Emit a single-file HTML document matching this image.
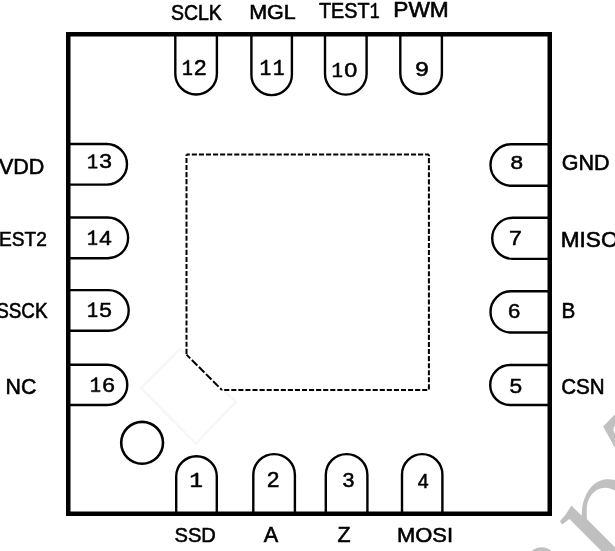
<!DOCTYPE html>
<html><head><meta charset="utf-8"><style>
html,body{margin:0;padding:0;background:#fff;}
svg{display:block;will-change:transform;}
text{font-family:"Liberation Sans",sans-serif;font-size:20px;fill:#000;}
</style></head><body>
<svg width="615" height="551" viewBox="0 0 615 551">
<rect width="615" height="551" fill="#fff"/>
<g fill="#c0c0c0"><path d="M559.9 521.2 Q567 514 571.3 505.4 L581.7 515.8 C581.5 500 589 481.5 606 479.3 C610 479 614 479.5 620 481.5 L620 492.5 C614 490.5 610 487.8 605 487.8 C595 488 586.8 497 586.8 510 L586.8 519 L688 620 L670 620 L569.5 519 L562.1 524.5 Z"/><path d="M603.2 426.4 L620 409 L620 422 C614.5 424 613.3 428 613.6 430 C613.8 433 615 435 620 436 L620 457 Z"/><circle cx="541.6" cy="562.2" r="15"/></g><polygon points="180,349 235.8,401.9 195.9,443.8 141,388" fill="none" stroke="#f7f7f7" stroke-width="2.5"/>
<rect x="68.25" y="34.25" width="481.5" height="479.5" fill="none" stroke="#000" stroke-width="4.5"/>
<path d="M175.30 34.25L175.30 73.70A20.8 20.8 0 0 0 216.90 73.70L216.90 34.25M251.40 34.25L251.40 74.85A20.25 20.25 0 0 0 291.90 74.85L291.90 34.25M325.00 34.25L325.00 73.80A20.8 20.8 0 0 0 366.60 73.80L366.60 34.25M400.30 34.25L400.30 73.20A20.8 20.8 0 0 0 441.90 73.20L441.90 34.25M176.20 513.75L176.20 476.50A20.3 20.3 0 0 1 216.80 476.50L216.80 513.75M253.30 513.75L253.30 474.90A20.8 20.8 0 0 1 294.90 474.90L294.90 513.75M325.80 513.75L325.80 474.90A20.8 20.8 0 0 1 367.40 474.90L367.40 513.75M402.00 513.75L402.00 474.30A20.2 20.2 0 0 1 442.40 474.30L442.40 513.75M68.25 144.00L106.70 144.00A20.3 20.3 0 0 1 106.70 184.60L68.25 184.60M68.25 217.55L107.75 217.55A20.35 20.35 0 0 1 107.75 258.25L68.25 258.25M68.25 290.10L108.40 290.10A20.3 20.3 0 0 1 108.40 330.70L68.25 330.70M68.25 364.75L107.15 364.75A20.15 20.15 0 0 1 107.15 405.05L68.25 405.05M549.75 144.20L511.30 144.20A20.8 20.8 0 0 0 511.30 185.80L549.75 185.80M549.75 217.70L512.80 217.70A20.6 20.6 0 0 0 512.80 258.90L549.75 258.90M549.75 291.25L511.15 291.25A20.65 20.65 0 0 0 511.15 332.55L549.75 332.55M549.75 365.00L510.20 365.00A20.0 20.0 0 0 0 510.20 405.00L549.75 405.00" fill="none" stroke="#000" stroke-width="2.4"/>
<line x1="186.5" y1="154.5" x2="428.9" y2="154.5" stroke="#000" stroke-width="2.0" stroke-dasharray="5.1 1.97" stroke-dashoffset="1.77"/>
<line x1="428.9" y1="154.5" x2="428.9" y2="390.0" stroke="#000" stroke-width="2.0" stroke-dasharray="5.1 1.97" stroke-dashoffset="3.47"/>
<line x1="186.5" y1="154.5" x2="186.5" y2="354.6" stroke="#000" stroke-width="2.0" stroke-dasharray="5.1 1.97" stroke-dashoffset="3.67"/>
<line x1="221.9" y1="390.0" x2="428.9" y2="390.0" stroke="#000" stroke-width="2.0" stroke-dasharray="5.1 1.97" stroke-dashoffset="4.77"/>
<line x1="186.5" y1="354.6" x2="221.9" y2="390.0" stroke="#000" stroke-width="2.0" stroke-dasharray="7.7 2.3" stroke-dashoffset="2.4"/>
<circle cx="142.1" cy="442.8" r="20.9" fill="none" stroke="#000" stroke-width="2.6"/>
<text transform="matrix(0.9743 0 0 1.0664 170.92 19.79)" stroke="#000" stroke-width="0.55">SCLK</text>
<text transform="matrix(1.0771 0 0 1.0311 249.13 18.50)" stroke="#000" stroke-width="0.55">MGL</text>
<g transform="matrix(0.9876 0 0 1.0876 319.06 17.99)"><text x="0.000" stroke="#000" stroke-width="0.55">T</text><text x="12.217" stroke="#000" stroke-width="0.55">E</text><text x="25.557" stroke="#000" stroke-width="0.55">S</text><text x="38.896" stroke="#000" stroke-width="0.55">T</text><path d="M170 0L950 0L950 135L670 135L670 1409L545 1409Q390 1210 150 1100L150 965Q350 1045 505 1165L505 135L170 135Z" transform="matrix(0.009766 0 0 -0.009766 51.113 0)" stroke="#000" stroke-width="56.32"/></g>
<text transform="matrix(1.1361 0 0 1.1192 393.24 17.10)" stroke="#000" stroke-width="0.55">PWM</text>
<text transform="matrix(1.0782 0 0 1.0683 -1.09 173.80)" stroke="#000" stroke-width="0.55">VDD</text>
<text transform="matrix(0.9584 0 0 1.0381 -1.07 245.70)" stroke="#000" stroke-width="0.55">EST2</text>
<text transform="matrix(0.9432 0 0 1.1017 -3.86 318.08)" stroke="#000" stroke-width="0.55">SSCK</text>
<text transform="matrix(1.0686 0 0 1.0664 5.55 393.59)" stroke="#000" stroke-width="0.55">NC</text>
<text transform="matrix(1.0758 0 0 1.0734 561.72 170.19)" stroke="#000" stroke-width="0.55">GND</text>
<text transform="matrix(1.1316 0 0 1.0593 560.74 247.49)" stroke="#000" stroke-width="0.55">MISO</text>
<text transform="matrix(1.0334 0 0 1.0974 561.60 318.30)" stroke="#000" stroke-width="0.55">B</text>
<text transform="matrix(1.0283 0 0 1.1017 561.26 393.58)" stroke="#000" stroke-width="0.55">CSN</text>
<text transform="matrix(1.0062 0 0 1.0169 174.49 541.80)" stroke="#000" stroke-width="0.55">SSD</text>
<text transform="matrix(1.0858 0 0 1.0901 263.66 542.30)" stroke="#000" stroke-width="0.55">A</text>
<text transform="matrix(1.0678 0 0 1.0683 337.62 542.30)" stroke="#000" stroke-width="0.55">Z</text>
<text transform="matrix(1.0981 0 0 1.0522 397.00 541.89)" stroke="#000" stroke-width="0.55">MOSI</text>
<g transform="matrix(1.1226 0 0 1.0670 181.56 74.90)"><path d="M170 0L950 0L950 135L670 135L670 1409L545 1409Q390 1210 150 1100L150 965Q350 1045 505 1165L505 135L170 135Z" transform="matrix(0.009766 0 0 -0.009766 0.000 0)" stroke="#000" stroke-width="51.20"/><text x="11.123" stroke="#000" stroke-width="0.5">2</text></g>
<g transform="matrix(1.1935 0 0 1.0829 259.25 74.90)"><path d="M170 0L950 0L950 135L670 135L670 1409L545 1409Q390 1210 150 1100L150 965Q350 1045 505 1165L505 135L170 135Z" transform="matrix(0.009766 0 0 -0.009766 0.000 0)" stroke="#000" stroke-width="51.20"/><path d="M170 0L950 0L950 135L670 135L670 1409L545 1409Q390 1210 150 1100L150 965Q350 1045 505 1165L505 135L170 135Z" transform="matrix(0.009766 0 0 -0.009766 11.123 0)" stroke="#000" stroke-width="51.20"/></g>
<g transform="matrix(1.1700 0 0 1.0240 331.19 77.00)"><path d="M170 0L950 0L950 135L670 135L670 1409L545 1409Q390 1210 150 1100L150 965Q350 1045 505 1165L505 135L170 135Z" transform="matrix(0.009766 0 0 -0.009766 0.000 0)" stroke="#000" stroke-width="51.20"/><text x="11.123" stroke="#000" stroke-width="0.5">0</text></g>
<g transform="matrix(1.2123 0 0 1.0452 415.36 76.10)"><text x="0.000" stroke="#000" stroke-width="0.5">9</text></g>
<g transform="matrix(1.1406 0 0 1.0028 86.63 168.20)"><path d="M170 0L950 0L950 135L670 135L670 1409L545 1409Q390 1210 150 1100L150 965Q350 1045 505 1165L505 135L170 135Z" transform="matrix(0.009766 0 0 -0.009766 0.000 0)" stroke="#000" stroke-width="51.20"/><text x="11.123" stroke="#000" stroke-width="0.5">3</text></g>
<g transform="matrix(1.1240 0 0 1.0465 86.65 244.80)"><path d="M170 0L950 0L950 135L670 135L670 1409L545 1409Q390 1210 150 1100L150 965Q350 1045 505 1165L505 135L170 135Z" transform="matrix(0.009766 0 0 -0.009766 0.000 0)" stroke="#000" stroke-width="51.20"/><text x="11.123" stroke="#000" stroke-width="0.5">4</text></g>
<g transform="matrix(1.1383 0 0 1.0390 86.63 316.90)"><path d="M170 0L950 0L950 135L670 135L670 1409L545 1409Q390 1210 150 1100L150 965Q350 1045 505 1165L505 135L170 135Z" transform="matrix(0.009766 0 0 -0.009766 0.000 0)" stroke="#000" stroke-width="51.20"/><text x="11.123" stroke="#000" stroke-width="0.5">5</text></g>
<g transform="matrix(1.1406 0 0 1.0452 89.53 391.80)"><path d="M170 0L950 0L950 135L670 135L670 1409L545 1409Q390 1210 150 1100L150 965Q350 1045 505 1165L505 135L170 135Z" transform="matrix(0.009766 0 0 -0.009766 0.000 0)" stroke="#000" stroke-width="51.20"/><text x="11.123" stroke="#000" stroke-width="0.5">6</text></g>
<g transform="matrix(1.1295 0 0 0.9604 510.42 168.91)"><text x="0.000" stroke="#000" stroke-width="0.5">8</text></g>
<g transform="matrix(1.1549 0 0 1.0465 509.02 244.70)"><text x="0.000" stroke="#000" stroke-width="0.5">7</text></g>
<g transform="matrix(1.1053 0 0 1.0028 507.98 317.80)"><text x="0.000" stroke="#000" stroke-width="0.5">6</text></g>
<g transform="matrix(1.1389 0 0 1.0176 509.49 392.90)"><text x="0.000" stroke="#000" stroke-width="0.5">5</text></g>
<g transform="matrix(1.3824 0 0 1.0102 188.97 486.90)"><path d="M170 0L950 0L950 135L670 135L670 1409L545 1409Q390 1210 150 1100L150 965Q350 1045 505 1165L505 135L170 135Z" transform="matrix(0.009766 0 0 -0.009766 0.000 0)" stroke="#000" stroke-width="51.20"/></g>
<g transform="matrix(1.1085 0 0 1.0598 266.88 486.70)"><text x="0.000" stroke="#000" stroke-width="0.5">2</text></g>
<g transform="matrix(1.0757 0 0 1.0522 342.38 486.99)"><text x="0.000" stroke="#000" stroke-width="0.5">3</text></g>
<g transform="matrix(0.9823 0 0 1.0320 417.75 488.20)"><text x="0.000" stroke="#000" stroke-width="0.5">4</text></g>
</svg>
</body></html>
